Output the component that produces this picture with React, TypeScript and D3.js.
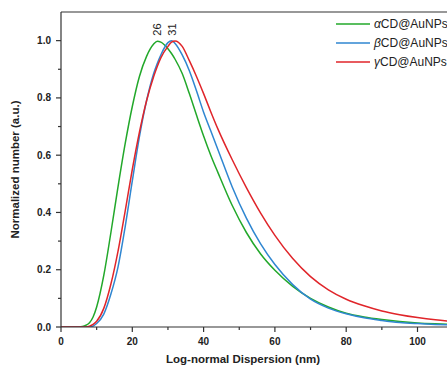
import React from 'react';
import * as d3 from 'd3';

const sizes = [0, 2, 4, 6, 7, 8, 9, 10, 12, 14, 16, 18, 20, 22, 24, 26, 27, 28, 30, 31, 32, 34, 36, 38, 40, 42, 44, 48, 52, 56, 60, 65, 70, 75, 80, 85, 90, 95, 100, 105, 110];

const alphaValues = [0, 0, 0, 0.002, 0.006, 0.015, 0.035, 0.07, 0.18, 0.33, 0.49, 0.64, 0.77, 0.875, 0.945, 0.988, 0.998, 0.995, 0.972, 0.955, 0.935, 0.885, 0.815, 0.74, 0.667, 0.6, 0.54, 0.425, 0.33, 0.255, 0.198, 0.142, 0.1, 0.07, 0.048, 0.035, 0.026, 0.019, 0.014, 0.011, 0.009];
const betaValues = [0, 0, 0, 0, 0, 0, 0.003, 0.012, 0.045, 0.115, 0.21, 0.35, 0.51, 0.665, 0.79, 0.885, 0.92, 0.95, 0.993, 1.0, 0.99, 0.95, 0.895, 0.825, 0.75, 0.685, 0.62, 0.49, 0.38, 0.29, 0.218, 0.148, 0.097, 0.066, 0.046, 0.032, 0.023, 0.016, 0.012, 0.009, 0.007];
const gammaValues = [0, 0, 0, 0, 0, 0.003, 0.009, 0.02, 0.065, 0.15, 0.265, 0.405, 0.55, 0.68, 0.79, 0.875, 0.91, 0.94, 0.98, 0.995, 0.999, 0.98, 0.93, 0.875, 0.815, 0.752, 0.692, 0.585, 0.487, 0.398, 0.32, 0.239, 0.176, 0.13, 0.097, 0.074, 0.056, 0.043, 0.033, 0.025, 0.019];

const seriesNames = ['α', 'β', 'γ'];
const seriesColors = ['#22a82a', '#2f86d1', '#e0252a'];
const peakLabels = [
  { text: '26', at: 27 },
  { text: '31', at: 31.2 },
];

const xTicks = [0, 20, 40, 60, 80, 100];
const yTicks = [0, 0.2, 0.4, 0.6, 0.8, 1.0];

const W = 447;
const H = 369;
const margin = { left: 61, top: 12, bottom: 42 };

export default function App() {
  const x = d3.scaleLinear().domain([0, 110]).range([margin.left, margin.left + 110 * 3.565]);
  const y = d3.scaleLinear().domain([0, 1.1]).range([H - margin.bottom, margin.top]);
  const all = [alphaValues, betaValues, gammaValues];

  const line = d3
    .line<number>()
    .x((_, i) => x(sizes[i]))
    .y((d) => y(d))
    .curve(d3.curveMonotoneX);

  const x0 = x(0);
  const y0 = y(0);
  const font = 'Arial, "Liberation Sans", sans-serif';
  const xMinor = d3.range(10, 111, 20);
  const yMinor = [0.1, 0.3, 0.5, 0.7, 0.9];

  return (
    <svg width={W} height={H} style={{ position: 'absolute', left: 0, top: 0 }} fontFamily={font}>
      <defs>
        <clipPath id="plot">
          <rect x={x0} y={y(1.1)} width={x(110) - x0} height={y0 - y(1.1)} />
        </clipPath>
      </defs>
      <g clipPath="url(#plot)">
        {all.map((vals, i) => (
          <path key={i} d={line(vals) || ''} fill="none" stroke={seriesColors[i]} strokeWidth={1.5} />
        ))}
      </g>

      {/* frame */}
      <line x1={x0} x2={x(110)} y1={y(1.1)} y2={y(1.1)} stroke="#333" strokeWidth={1.2} />
      <line x1={x0} x2={x(110)} y1={y0} y2={y0} stroke="#333" strokeWidth={1.2} />
      <line x1={x0} x2={x0} y1={y(1.1)} y2={y0} stroke="#333" strokeWidth={1.2} />

      {/* x axis */}
      {xTicks.map((t) => (
        <g key={t}>
          <line x1={x(t)} x2={x(t)} y1={y0} y2={y0 + 5} stroke="#333" strokeWidth={1.2} />
          <text x={x(t)} y={y0 + 18} textAnchor="middle" fontSize={10} fontWeight="bold" fill="#222">
            {t}
          </text>
        </g>
      ))}
      {xMinor.map((t) => (
        <line key={t} x1={x(t)} x2={x(t)} y1={y0} y2={y0 + 3} stroke="#333" strokeWidth={1.2} />
      ))}

      {/* y axis */}
      {yTicks.map((t) => (
        <g key={t}>
          <line x1={x0 - 5} x2={x0} y1={y(t)} y2={y(t)} stroke="#333" strokeWidth={1.2} />
          <text x={x0 - 10} y={y(t) + 3.5} textAnchor="end" fontSize={10} fontWeight="bold" fill="#222">
            {t.toFixed(1)}
          </text>
        </g>
      ))}
      {yMinor.map((t) => (
        <line key={t} x1={x0 - 3} x2={x0} y1={y(t)} y2={y(t)} stroke="#333" strokeWidth={1.2} />
      ))}

      <text x={243} y={363} textAnchor="middle" fontSize={11.5} fontWeight="bold" fill="#222">
        Log-normal Dispersion (nm)
      </text>
      <text
        transform={`translate(19,${(y(1.1) + y0) / 2}) rotate(-90)`}
        textAnchor="middle"
        fontSize={11.5}
        fontWeight="bold"
        fill="#222"
      >
        Normalized number (a.u.)
      </text>

      {/* peak labels */}
      {peakLabels.map((p) => (
        <text
          key={p.text}
          transform={`translate(${x(p.at) + 4},${y(1.0) - 5}) rotate(-90)`}
          fontSize={11}
          fill="#222"
        >
          {p.text}
        </text>
      ))}

      {/* legend */}
      {seriesNames.map((n, i) => (
        <g key={n} transform={`translate(336,${24 + i * 19})`}>
          <line x1={0} x2={34} y1={0} y2={0} stroke={seriesColors[i]} strokeWidth={1.5} />
          <text x={38} y={4} fontSize={12} fill="#222">
            <tspan fontStyle="italic">{n}</tspan>CD@AuNPs
          </text>
        </g>
      ))}
    </svg>
  );
}
